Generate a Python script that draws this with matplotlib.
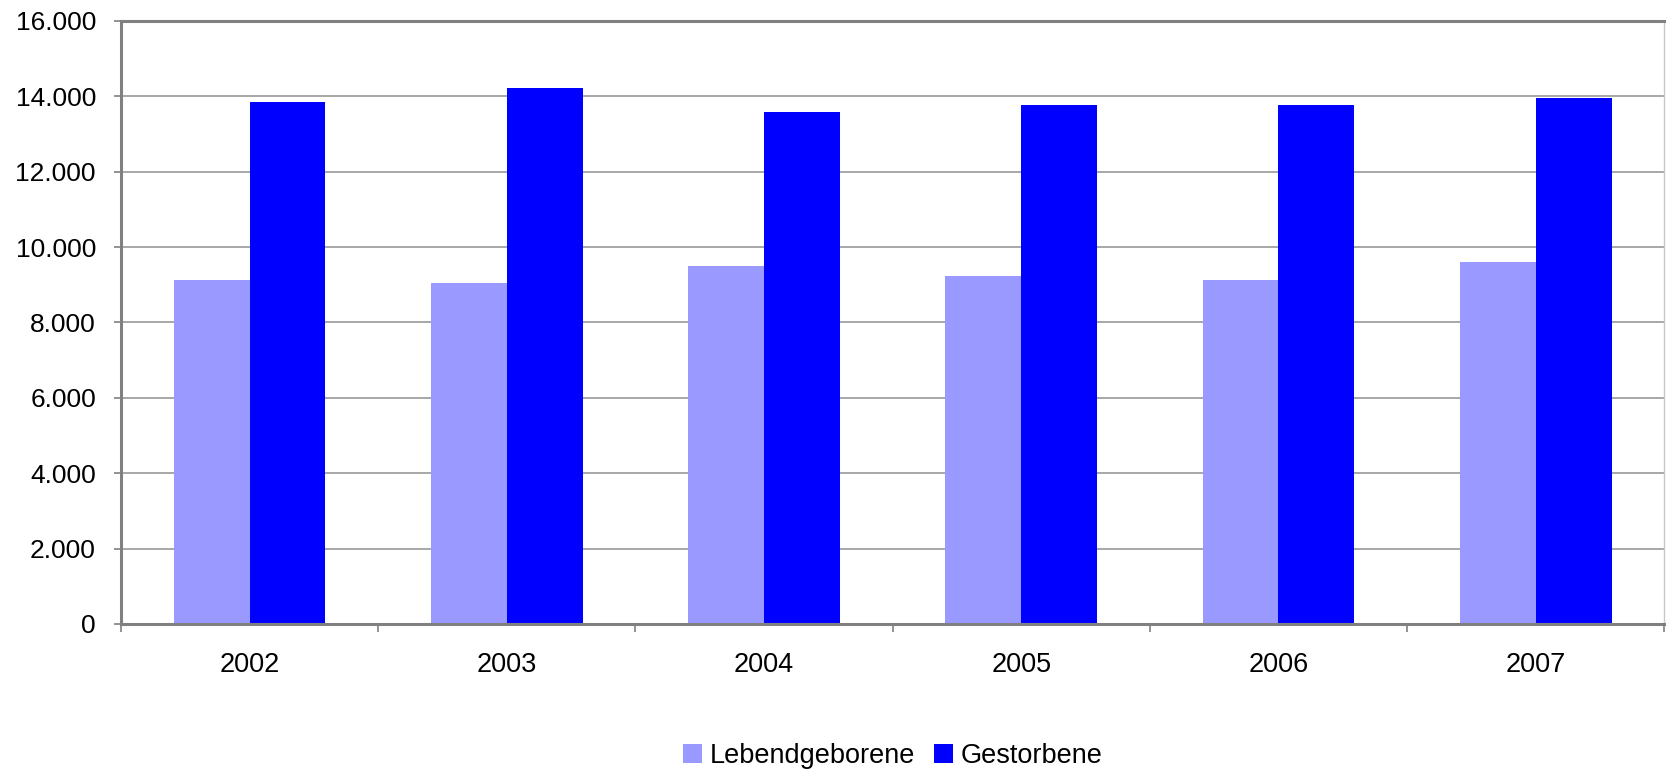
import matplotlib
matplotlib.use("Agg")
import matplotlib.pyplot as plt
import numpy as np
from matplotlib.ticker import FuncFormatter, FixedLocator

years = ["2002", "2003", "2004", "2005", "2006", "2007"]
lebendgeborene = [9140, 9060, 9510, 9245, 9140, 9615]
gestorbene = [13855, 14225, 13590, 13775, 13775, 13960]

plt.rcParams["font.family"] = ["Liberation Sans", "DejaVu Sans"]

fig = plt.figure(figsize=(16.66, 7.69), dpi=100)
ax = fig.add_axes([0.0726, 0.1886, 0.9264, 0.7841])

x = np.arange(len(years))
w = 0.295
ax.bar(x - w / 2, lebendgeborene, w, color="#9999ff", linewidth=0,
       label="Lebendgeborene", zorder=2)
ax.bar(x + w / 2, gestorbene, w, color="#0000ff", linewidth=0,
       label="Gestorbene", zorder=2)

ax.set_xlim(-0.5, len(years) - 0.5)
ax.set_ylim(0, 16000)
ax.set_yticks(np.arange(0, 16001, 2000))
ax.yaxis.set_major_formatter(FuncFormatter(lambda v, p: f"{int(v):,}".replace(",", ".")))
ax.yaxis.grid(True, color="#a0a0a0", linewidth=1.3, zorder=0)
ax.set_axisbelow(True)

ax.set_xticks(x)
ax.set_xticklabels(years)
ax.xaxis.set_minor_locator(FixedLocator(np.arange(-0.5, len(years), 1.0)))
ax.tick_params(axis="x", which="major", length=0, pad=20, labelsize=19.5)
ax.tick_params(axis="x", which="minor", length=6, color="#808080", width=1.2)
ax.tick_params(axis="y", length=5, color="#808080", width=1.2, pad=13, labelsize=19)

for side in ["left", "bottom", "top"]:
    ax.spines[side].set_color("#808080")
    ax.spines[side].set_linewidth(2.2)
ax.spines["right"].set_color("#c8c8c8")
ax.spines["right"].set_linewidth(1)

fig.legend(loc="center", bbox_to_anchor=(0.536, 0.017), ncol=2, frameon=False,
           fontsize=19.5, handlelength=0.68, handleheight=0.68,
           handletextpad=0.3, columnspacing=0.7)

fig.savefig("out.png", dpi=100)
